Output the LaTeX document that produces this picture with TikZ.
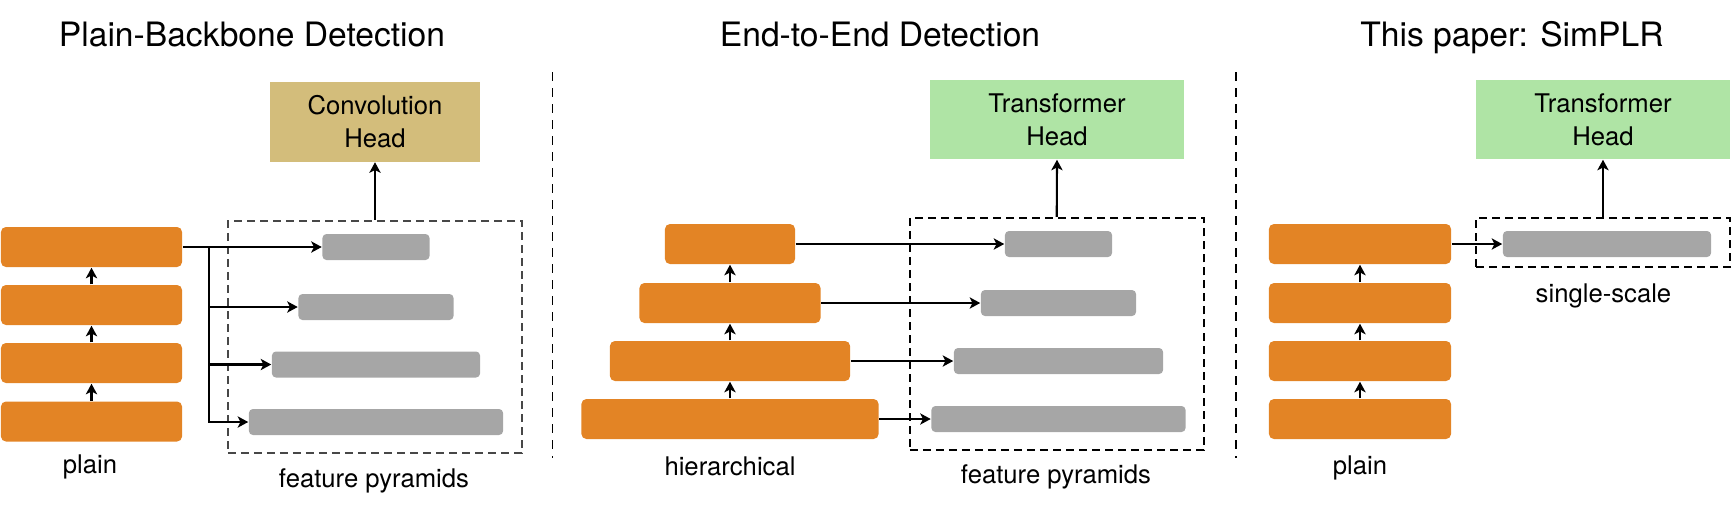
\documentclass[tikz,border=0pt]{standalone}
\usepackage{fontspec}
\setmainfont{TeX Gyre Heros}
\usetikzlibrary{arrows.meta}
\definecolor{bboneorange}{RGB}{227,132,37}
\definecolor{featgray}{RGB}{166,166,166}
\definecolor{convtan}{RGB}{211,189,123}
\definecolor{transgreen}{RGB}{175,228,165}

\begin{document}
\begin{tikzpicture}[x=0.01cm,y=-0.01cm,
 bb/.style={fill=bboneorange,rounded corners=0.05cm,minimum height=0.40cm,inner sep=0pt},
 ft/.style={fill=featgray,rounded corners=0.04cm,minimum height=0.26cm,inner sep=0pt},
 headbox/.style={align=center,inner sep=0pt,minimum height=0.79cm,font=\fontsize{7.3pt}{9.4pt}\selectfont},
 grp/.style={draw,line width=0.6pt,dash pattern=on 0.08cm off 0.05cm,inner sep=0pt},
 arr/.style={-{Stealth[length=3pt,width=3.2pt,inset=0.8pt]},line width=0.6pt},
 sep/.style={line width=0.55pt,dash pattern=on 0.09cm off 0.07cm},
 ttl/.style={anchor=base,font=\fontsize{9.56pt}{11pt}\selectfont},
 lbl/.style={anchor=base,font=\fontsize{7.3pt}{9pt}\selectfont}]
 \useasboundingbox (0,0) rectangle (1732,511);
 %
 % plain backbone + feature pyramids
 \foreach \i/\y in {1/247,2/305,3/363,4/421.5}
  \node[bb,minimum width=1.81cm] (pb\i) at (91.5,\y) {};
 \foreach \i/\j in {2/1,3/2,4/3}
  \draw[arr] (pb\i) -- (pb\j);
 \foreach \i/\w/\y in {1/1.07/247,2/1.55/307,3/2.08/364.5,4/2.54/422}
  \node[ft,minimum width=\w cm] (pf\i) at (376,\y) {};
 \node[grp,draw=black!72,minimum width=2.94cm,minimum height=2.32cm] (pyr) at (375,337) {};
 \node[headbox,fill=convtan,minimum width=2.09cm] (conv) at (375,122) {Convolution\\Head};
 \draw[arr] (pyr.north) -- (conv.south);
 \coordinate (br) at (209,247);
 \draw[line width=0.6pt] (pb1.east) -- (br);
 \foreach \i in {1,...,4}
  \draw[arr] (br) |- (pf\i.west);
 \node[lbl] (plainA) at (90,473) {plain};
 \node[lbl] (fpA) at (374,487) {feature pyramids};
 \node[ttl] (tA) at (252,46) {Plain-Backbone Detection};
 %
 \draw[sep] (552.5,72) -- (552.5,458);
 %
 % hierarchical backbone
 \foreach \i/\wa/\wb/\y in {1/1.30/1.07/244,2/1.81/1.55/303,3/2.40/2.09/361,4/2.97/2.54/419}
 {
  \node[bb,minimum width=\wa cm] (hb\i) at (730,\y) {};
  \node[ft,minimum width=\wb cm] (hf\i) at (1058.5,\y) {};
  \draw[arr] (hb\i.east) -- (hf\i.west);
 }
 \foreach \i/\j in {2/1,3/2,4/3}
  \draw[arr] (hb\i) -- (hb\j);
 \node[grp,minimum width=2.935cm,minimum height=2.32cm] (hpyr) at (1056.75,334) {};
 \node[headbox,fill=transgreen,minimum width=2.54cm] (htr) at (1057,119.5) {Transformer\\Head};
 \draw[arr] (hpyr.north) -- (htr.south);
 \node[lbl] (hierB) at (730,475) {hierarchical};
 \node[lbl] (fpB) at (1056,483) {feature pyramids};
 \node[ttl] (tB) at (880,46) {End-to-End Detection};
 %
 \draw[sep] (1236,72) -- (1236,458);
 %
 % SimPLR
 \foreach \i/\y in {1/244,2/303,3/361,4/419}
  \node[bb,minimum width=1.82cm] (sb\i) at (1360,\y) {};
 \foreach \i/\j in {2/1,3/2,4/3}
  \draw[arr] (sb\i) -- (sb\j);
 \node[ft,minimum width=2.08cm] (sf) at (1607,244) {};
 \node[grp,minimum width=2.54cm,minimum height=0.49cm] (ss) at (1603,242.5) {};
 \node[headbox,fill=transgreen,minimum width=2.53cm] (str) at (1603,119.5) {Transformer\\Head};
 \draw[arr] (ss.north) -- (str.south);
 \draw[arr] (sb1.east) -- (sf.west);
 \node[lbl] (singC) at (1603.5,302) {single-scale};
 \node[lbl] (plainC) at (1360,474) {plain};
 \node[ttl] (tC) at (1512,46) {This paper: SimPLR};
\end{tikzpicture}
\end{document}
